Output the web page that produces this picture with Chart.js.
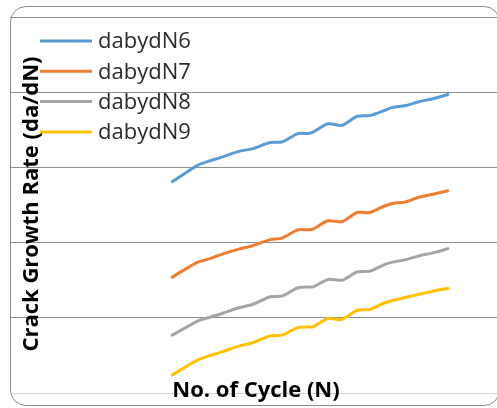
<!DOCTYPE html>
<html>
<head>
<meta charset="utf-8">
<script src="https://cdn.jsdelivr.net/npm/chart.js@4.4.0/dist/chart.umd.min.js"></script>
<style>
  html, body { margin: 0; padding: 0; background: #fff; overflow: hidden; }
  #wrap { position: relative; width: 497px; height: 408px; }
  #frame {
    position: absolute; left: 10px; top: 6px;
    width: 488px; height: 398px;
    border: 1px solid #8c8c8c; border-radius: 16px;
  }
  canvas { position: absolute; left: 0; top: 0; }
</style>
</head>
<body>
<div id="wrap">
  <div id="frame"></div>
  <canvas id="chart" width="497" height="408"></canvas>
</div>
<script>
// cycle values (x) shared by all series
const cycles = [33.3, 36.1, 38.6, 40.7, 43.7, 46.8, 49.9, 53.4, 55.9, 59.1, 61.2,
                62.2, 65.3, 68.2, 71.3, 73.9, 77.0, 78.6, 81.1, 83.8, 87.3, 89.9];

const dabydN6 = [2.81, 2.93, 3.03, 3.08, 3.14, 3.21, 3.25, 3.33, 3.34, 3.45, 3.45,
                 3.47, 3.58, 3.56, 3.68, 3.69, 3.76, 3.80, 3.82, 3.87, 3.92, 3.97];
const dabydN7 = [1.54, 1.65, 1.74, 1.78, 1.85, 1.91, 1.96, 2.04, 2.06, 2.17, 2.17,
                 2.18, 2.29, 2.28, 2.40, 2.40, 2.49, 2.52, 2.54, 2.60, 2.65, 2.69];
const dabydN8 = [0.77, 0.87, 0.96, 1.00, 1.06, 1.13, 1.18, 1.28, 1.29, 1.40, 1.41,
                 1.41, 1.51, 1.50, 1.61, 1.62, 1.71, 1.74, 1.77, 1.82, 1.87, 1.92];
const dabydN9 = [0.24, 0.35, 0.44, 0.49, 0.55, 0.62, 0.67, 0.76, 0.77, 0.87, 0.88,
                 0.88, 0.99, 0.98, 1.10, 1.11, 1.20, 1.23, 1.27, 1.31, 1.36, 1.39];

const seriesNames = ['dabydN6', 'dabydN7', 'dabydN8', 'dabydN9'];
const seriesValues = [dabydN6, dabydN7, dabydN8, dabydN9];
const seriesColors = ['#5b9bd5', '#ed7d31', '#a5a5a5', '#ffc000'];

const yTitle = 'Crack Growth Rate (da/dN)';
const xTitle = 'No. of Cycle (N)';

// legend + axis titles sit inside the plot area, so draw them ourselves
const overlay = {
  id: 'overlay',
  afterDraw(chart) {
    const ctx = chart.ctx;
    ctx.save();

    ctx.font = '22px "Open Sans"';
    ctx.textBaseline = 'middle';
    ctx.textAlign = 'left';
    chart.data.datasets.forEach((ds, i) => {
      const y = 41 + i * 30.3;
      ctx.strokeStyle = ds.borderColor;
      ctx.lineWidth = 3;
      ctx.beginPath();
      ctx.moveTo(40, y);
      ctx.lineTo(92, y);
      ctx.stroke();
      ctx.fillStyle = '#2b2b2b';
      ctx.fillText(ds.label, 98, y + 1);
    });

    ctx.fillStyle = '#000';
    ctx.font = 'bold 22px "Open Sans"';
    ctx.textAlign = 'center';
    ctx.textBaseline = 'alphabetic';
    ctx.fillText(xTitle, 256, 397);

    ctx.translate(38, 204);
    ctx.rotate(-Math.PI / 2);
    ctx.fillText(yTitle, 0, 0);

    ctx.restore();
  }
};

new Chart(document.getElementById('chart'), {
  type: 'line',
  data: {
    datasets: seriesNames.map((name, i) => ({
      label: name,
      data: cycles.map((c, j) => ({ x: c, y: seriesValues[i][j] })),
      borderColor: seriesColors[i],
      backgroundColor: seriesColors[i],
      borderWidth: 3,
      borderCapStyle: 'round',
      pointRadius: 0,
      tension: 0.25,
      fill: false
    }))
  },
  options: {
    responsive: false,
    animation: false,
    layout: { padding: { left: 10, top: 17, right: 0, bottom: 15 } },
    plugins: {
      legend: { display: false },
      tooltip: { enabled: false }
    },
    scales: {
      x: { type: 'linear', min: 0, max: 100, display: false },
      y: {
        min: 0,
        max: 5,
        ticks: { display: false, stepSize: 1 },
        grid: {
          drawTicks: false,
          color: ctx => (ctx.tick && ctx.tick.value === 0 ? '#d4d4d4' : '#8e8e8e')
        },
        border: { display: false }
      }
    }
  },
  plugins: [overlay]
});
</script>
</body>
</html>
